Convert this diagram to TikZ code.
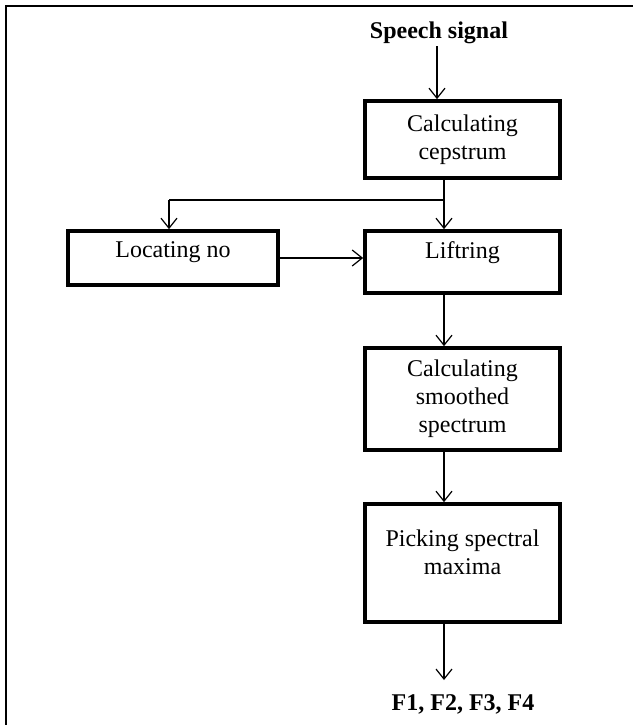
\documentclass[tikz,border=0pt]{standalone}
\usepackage{fontspec}
\setmainfont{Liberation Serif}
\usetikzlibrary{arrows.meta}
\begin{document}
\begin{tikzpicture}[x=0.75pt,y=-0.75pt,
  every node/.style={font=\fontsize{18}{21}\selectfont, inner sep=0pt},
  box/.style={draw, line width=2.8pt, fill=white, minimum width=195*0.75pt, align=center},
  lbl/.style={align=center},
  arr/.style={line width=1pt, -{Straight Barb[length=7.5pt,width=12pt,line width=0.9pt]}},
  frame/.style={line width=1.8pt}]
\useasboundingbox (0,0) rectangle (633,725);
% outer frame (only top and left edges are visible)
\draw[frame] (6,725) -- (6,6) -- (633,6);

% boxes
\node[box, minimum height=77*0.75pt] (b1) at (462.5,139.5) {Calculating\\cepstrum};
\node[box, minimum width=210*0.75pt, minimum height=54*0.75pt] (loc) at (173,258) {};
\node[lbl] (loct) at (173,252) {Locating no};
\node[box, minimum height=62*0.75pt] (lift) at (462.5,262) {};
\node[lbl] (liftt) at (462.5,253) {Liftring};
\node[box, minimum height=102*0.75pt] (b3) at (462.5,399) {Calculating\\smoothed\\spectrum};
\node[box, minimum height=118*0.75pt] (b4) at (462.5,563) {};
\node[lbl] (b4t) at (462.5,552) {Picking spectral\\maxima};

% terminal texts
\node[font=\fontsize{18}{21}\selectfont\bfseries] (speech) at (439,33) {Speech signal};
\node[font=\fontsize{18}{21}\selectfont\bfseries] (out) at (463,704) {F1, F2, F3, F4};

% junctions and end points
\coordinate (j) at (444,200);
\coordinate (k) at (169,200);
\coordinate (s) at (437,46);
\coordinate (endp) at (444,680);

% connectors
\draw[arr] (s) -- (s |- b1.north);
\draw[arr] (j |- b1.south) -- (j |- lift.north);
\draw[line width=1pt] (j) -- (k);
\draw[arr] (k) -- (k |- loc.north);
\draw[arr] (loc.east) -- (lift.west |- loc.east);
\draw[arr] (j |- lift.south) -- (j |- b3.north);
\draw[arr] (j |- b3.south) -- (j |- b4.north);
\draw[arr] (j |- b4.south) -- (endp);
\end{tikzpicture}
\end{document}
